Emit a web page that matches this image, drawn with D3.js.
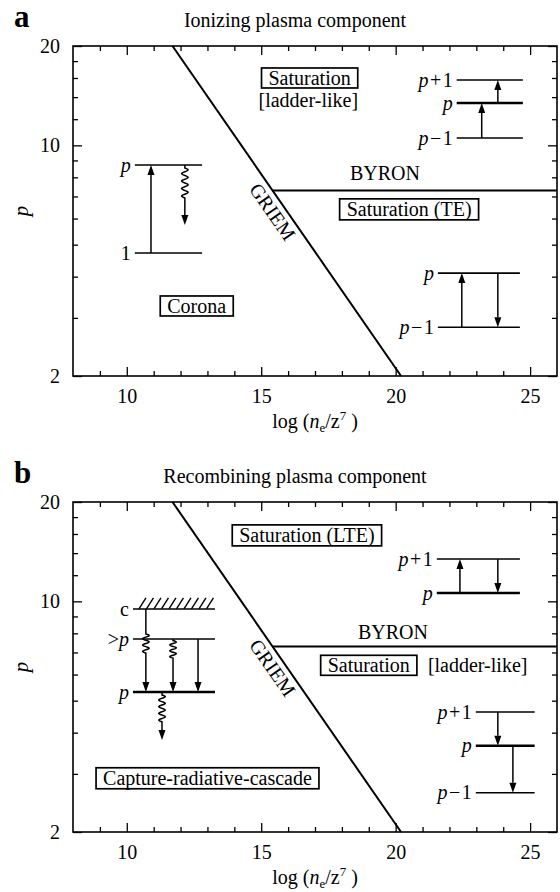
<!DOCTYPE html>
<html>
<head>
<meta charset="utf-8">
<script src="https://cdn.jsdelivr.net/npm/d3@7/dist/d3.min.js"></script>
<style>
  body { margin: 0; background: #fff; }
  svg { font-family: "Liberation Serif", "DejaVu Serif", serif; }
</style>
</head>
<body>
<div id="chart"></div>
<script>
// axis ticks
const xMajor = [10, 15, 20, 25];
const xMinor = [9, 11, 12, 13, 14, 16, 17, 18, 19, 21, 22, 23, 24];
const pMajor = [2, 10, 20];
const pMinor = [3, 4, 5, 6, 7, 8, 9, 12, 14, 16, 18];

// boundaries (x = log(ne/z^7), p = principal quantum number)
const griemX = [11.7, 20.2];
const griemP = [20, 2];
const byronX = [15.4, 26];
const byronP = [7.3, 7.3];

// region labels
const labelsA = [
  { text: 'Saturation', x: 16.8, p: 16.0, box: true },
  { text: '[ladder-like]', x: 16.75, p: 13.7 },
  { text: 'BYRON', x: 19.6, p: 8.24 },
  { text: 'Saturation (TE)', x: 20.5, p: 6.42, box: true },
  { text: 'Corona', x: 12.6, p: 3.26, box: true }
];
const labelsB = [
  { text: 'Saturation (LTE)', x: 16.7, p: 15.9, box: true },
  { text: 'BYRON', x: 19.9, p: 8.07 },
  { text: 'Saturation', x: 19.0, p: 6.4, box: true },
  { text: '[ladder-like]', x: 23.05, p: 6.4 },
  { text: 'Capture-radiative-cascade', x: 13.0, p: 2.92, box: true }
];

// level diagrams
const diagramsA = [
  { x0: 22.27, x1: 24.73,
    levels: [{ name: 'p+1', p: 15.78 }, { name: 'p', p: 13.44, thick: true }, { name: 'p\u22121', p: 10.53 }],
    arrows: [{ x: 23.2, from: 10.53, to: 13.44 }, { x: 23.8, from: 13.44, to: 15.78 }] },
  { x0: 21.57, x1: 24.62,
    levels: [{ name: 'p', p: 4.10 }, { name: 'p\u22121', p: 2.81 }],
    arrows: [{ x: 22.46, from: 2.81, to: 4.10 }, { x: 23.8, from: 4.10, to: 2.81 }] },
  { x0: 10.3, x1: 12.8,
    levels: [{ name: 'p', p: 8.72 }, { name: '1', p: 4.72 }],
    arrows: [{ x: 10.9, from: 4.72, to: 8.72 }, { x: 12.16, from: 8.72, to: 5.74, wave: [0.05, 0.55] }] }
];
const diagramsB = [
  { x0: 21.53, x1: 24.62,
    levels: [{ name: 'p+1', p: 13.44 }, { name: 'p', p: 10.6, thick: true }],
    arrows: [{ x: 22.39, from: 10.6, to: 13.44 }, { x: 23.8, from: 13.44, to: 10.6 }] },
  { x0: 22.98, x1: 25.17,
    levels: [{ name: 'p+1', p: 4.62 }, { name: 'p', p: 3.65, thick: true }, { name: 'p\u22121', p: 2.63 }],
    arrows: [{ x: 23.8, from: 4.62, to: 3.65 }, { x: 24.36, from: 3.65, to: 2.63 }] },
  { x0: 10.23, x1: 13.28,
    levels: [{ name: 'c', p: 9.48, hatch: true }, { name: '>p', p: 7.69 }, { name: 'p', p: 5.31, thick: true }],
    arrows: [{ x: 10.71, from: 9.48, to: 5.31, wave: [0.3, 0.53] },
             { x: 11.72, from: 7.69, to: 5.31, wave: [0.03, 0.36] },
             { x: 12.65, from: 7.69, to: 5.31 },
             { x: 11.31, from: 5.31, to: 3.80, wave: [0.06, 0.62] }] }
];

const panels = [
  { letter: 'a', title: 'Ionizing plasma component', top: 46, labels: labelsA, diagrams: diagramsA },
  { letter: 'b', title: 'Recombining plasma component', top: 502, labels: labelsB, diagrams: diagramsB }
];

const W = 484, H = 330, left = 73;
const x = d3.scaleLinear().domain([8, 26]).range([0, W]);
const y = d3.scaleLog().domain([2, 20]).range([H, 0]);

const svg = d3.select('#chart').append('svg')
  .attr('width', 560)
  .attr('height', 892);

panels.forEach(panel => {
  svg.append('text')
    .attr('x', 14).attr('y', panel.top - 19)
    .attr('font-size', 31).attr('font-weight', 'bold')
    .text(panel.letter);
  svg.append('text')
    .attr('x', 295).attr('y', panel.top - 19)
    .attr('text-anchor', 'middle').attr('font-size', 20)
    .text(panel.title);

  const g = svg.append('g').attr('transform', `translate(${left},${panel.top})`);
  drawAxes(g);

  // boundaries
  const line = d3.line().x(d => x(d[0])).y(d => y(d[1]));
  g.append('path').attr('d', line(d3.zip(griemX, griemP)))
    .attr('fill', 'none').attr('stroke', '#000').attr('stroke-width', 2);
  g.append('path').attr('d', line(d3.zip(byronX, byronP)))
    .attr('fill', 'none').attr('stroke', '#000').attr('stroke-width', 2);

  // GRIEM label along the line
  const gx0 = x(griemX[0]), gy0 = y(griemP[0]), gx1 = x(griemX[1]), gy1 = y(griemP[1]);
  const angle = Math.atan2(gy1 - gy0, gx1 - gx0) * 180 / Math.PI;
  const ly = y(6.6);
  const lx = gx0 + (gx1 - gx0) * (ly - gy0) / (gy1 - gy0);
  g.append('text')
    .attr('transform', `translate(${lx},${ly}) rotate(${angle})`)
    .attr('y', 19).attr('text-anchor', 'middle').attr('font-size', 20)
    .text('GRIEM');

  panel.labels.forEach(d => {
    const t = g.append('text')
      .attr('x', x(d.x)).attr('y', y(d.p)).attr('dy', '0.35em')
      .attr('text-anchor', 'middle').attr('font-size', 20)
      .text(d.text);
    if (d.box) {
      const b = t.node().getBBox();
      g.insert('rect', () => t.node())
        .attr('x', b.x - 7).attr('y', b.y + 1)
        .attr('width', b.width + 14).attr('height', b.height - 2)
        .attr('fill', '#fff').attr('stroke', '#000').attr('stroke-width', 1.7);
    }
  });

  panel.diagrams.forEach(dg => drawDiagram(g, dg));

  // axis titles
  svg.append('text')
    .attr('transform', `translate(28,${panel.top + H / 2}) rotate(-90)`)
    .attr('text-anchor', 'middle').attr('font-size', 21).attr('font-style', 'italic')
    .text('p');
  const xt = svg.append('text')
    .attr('x', left + W / 2).attr('y', panel.top + H + 52)
    .attr('text-anchor', 'middle').attr('font-size', 20);
  xt.append('tspan').text('log (');
  xt.append('tspan').attr('font-style', 'italic').text('n');
  xt.append('tspan').attr('font-size', 13).attr('dy', 4).text('e');
  xt.append('tspan').attr('dy', -4).text('/z');
  xt.append('tspan').attr('font-size', 13).attr('dy', -8).text('7');
  xt.append('tspan').attr('dy', 8).text(' )');
});

function drawAxes(g) {
  const specs = [
    [d3.axisBottom(x).tickValues(xMajor).tickFormat(d => d), d3.axisBottom(x).tickValues(xMinor), `translate(0,${H})`],
    [d3.axisTop(x).tickValues(xMajor).tickFormat(''), d3.axisTop(x).tickValues(xMinor), 'translate(0,0)'],
    [d3.axisLeft(y).tickValues(pMajor).tickFormat(d => d), d3.axisLeft(y).tickValues(pMinor), 'translate(0,0)'],
    [d3.axisRight(y).tickValues(pMajor).tickFormat(''), d3.axisRight(y).tickValues(pMinor), `translate(${W},0)`]
  ];
  specs.forEach(([major, minor, tr]) => {
    const gm = g.append('g').attr('transform', tr)
      .call(major.tickSize(-9).tickPadding(13));
    const gn = g.append('g').attr('transform', tr)
      .call(minor.tickSize(-5).tickFormat(''));
    [gm, gn].forEach(a => {
      a.select('.domain').remove();
      a.selectAll('line').attr('stroke', '#000').attr('stroke-width', 1.3);
      a.attr('font-family', null).attr('font-size', 20);
      a.selectAll('text').attr('fill', '#000');
    });
  });
  g.append('rect').attr('width', W).attr('height', H)
    .attr('fill', 'none').attr('stroke', '#000').attr('stroke-width', 1.6);
}

function levelLabel(g, name, px, py) {
  const t = g.append('text').attr('x', px).attr('y', py).attr('dy', '0.33em')
    .attr('text-anchor', 'end').attr('font-size', 20);
  name.split('').forEach((ch, i) => {
    const s = t.append('tspan').text(ch);
    if (ch === 'p') s.attr('font-style', 'italic');
    if (i > 0 && name.length > 2) s.attr('dx', 1.5);
  });
}

function drawArrow(g, px, ya, yb, wave) {
  const dir = yb > ya ? 1 : -1;
  const head = 10;
  const yEnd = yb - dir * head;
  let d = `M${px},${ya}`;
  if (wave) {
    const w0 = ya + (yb - ya) * wave[0];
    const w1 = ya + (yb - ya) * wave[1];
    d += `L${px},${w0}`;
    const len = Math.abs(w1 - w0);
    const period = 7;
    const turns = Math.max(1, Math.round(len / period));
    const step = (w1 - w0) / (turns * 12);
    for (let i = 1; i <= turns * 12; i++) {
      const yy = w0 + step * i;
      const xx = px + 3.2 * Math.sin(2 * Math.PI * i / 12);
      d += `L${xx.toFixed(2)},${yy.toFixed(2)}`;
    }
  }
  d += `L${px},${yEnd}`;
  g.append('path').attr('d', d).attr('fill', 'none')
    .attr('stroke', '#000').attr('stroke-width', 1.5);
  g.append('path').attr('d', `M${px},${yb}L${px - 3.5},${yEnd}L${px + 3.5},${yEnd}Z`)
    .attr('fill', '#000');
}

function drawDiagram(g, dg) {
  const a = x(dg.x0), b = x(dg.x1);
  dg.levels.forEach(l => {
    const py = y(l.p);
    g.append('line').attr('x1', a).attr('x2', b).attr('y1', py).attr('y2', py)
      .attr('stroke', '#000').attr('stroke-width', l.thick ? 2.6 : 1.6);
    levelLabel(g, l.name, a - 4, py);
    if (l.hatch) {
      for (let hx = a + 6; hx <= b - 6; hx += 7.5) {
        g.append('line').attr('x1', hx).attr('y1', py).attr('x2', hx + 7).attr('y2', py - 11)
          .attr('stroke', '#000').attr('stroke-width', 1.4);
      }
    }
  });
  dg.arrows.forEach(ar => drawArrow(g, x(ar.x), y(ar.from), y(ar.to), ar.wave));
}
</script>
</body>
</html>
